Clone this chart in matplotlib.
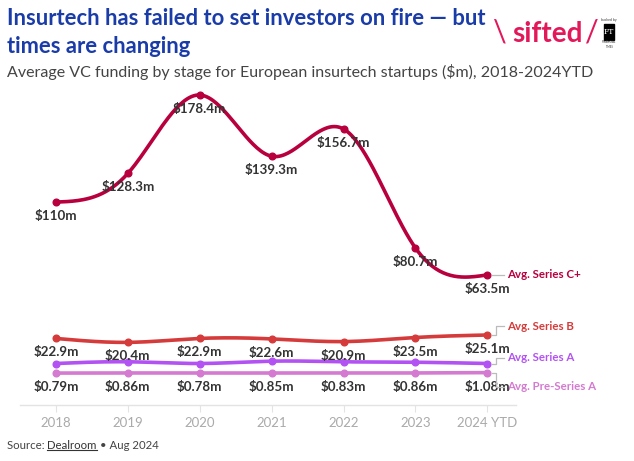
import numpy as np
import matplotlib
matplotlib.use("Agg")
import matplotlib.pyplot as plt
from matplotlib.lines import Line2D
from matplotlib.patches import Rectangle
from matplotlib.transforms import IdentityTransform

plt.rcParams['font.family'] = ['Lato', 'DejaVu Sans']

# data ($m)
years = ["2018", "2019", "2020", "2021", "2022", "2023", "2024 YTD"]
series_c = [110, 128.3, 178.4, 139.3, 156.7, 80.7, 63.5]
series_b = [22.9, 20.4, 22.9, 22.6, 20.9, 23.5, 25.1]
series_a = [6.9, 8.0, 6.9, 8.4, 8.0, 7.7, 6.9]
pre_a = [0.79, 0.86, 0.78, 0.85, 0.83, 0.86, 1.08]

labels_c = ["$110m", "$128.3m", "$178.4m", "$139.3m", "$156.7m", "$80.7m", "$63.5m"]
labels_b = ["$22.9m", "$20.4m", "$22.9m", "$22.6m", "$20.9m", "$23.5m", "$25.1m"]
labels_pre = ["$0.79m", "$0.86m", "$0.78m", "$0.85m", "$0.83m", "$0.86m", "$1.08m"]


def natural_spline(y, n=40):
    # natural cubic spline through equally spaced points (like d3 curveNatural)
    y = np.asarray(y, dtype=float)
    k = len(y)
    A = np.zeros((k, k))
    d = np.zeros(k)
    A[0, 0] = A[-1, -1] = 1
    for i in range(1, k - 1):
        A[i, i - 1], A[i, i], A[i, i + 1] = 1, 4, 1
        d[i] = 6 * (y[i + 1] - 2 * y[i] + y[i - 1])
    M = np.linalg.solve(A, d)
    xs, ys = [], []
    for i in range(k - 1):
        t = np.linspace(0, 1, n)
        a = y[i]
        b = y[i + 1] - y[i] - (2 * M[i] + M[i + 1]) / 6
        c = M[i] / 2
        dd = (M[i + 1] - M[i]) / 6
        xs.append(i + t)
        ys.append(a + b * t + c * t ** 2 + dd * t ** 3)
    return np.concatenate(xs), np.concatenate(ys)


fig = plt.figure(figsize=(6.34, 4.61), dpi=100)
ax = fig.add_axes([0.0315, 0.1215, 0.7825, 0.705])
ax.set_xlim(-0.5, 6.4)
ax.set_ylim(-19.6, 188)

x = np.arange(len(years))
series = [
    (series_c, "#b8003e", "Avg. Series C+", 0),
    (series_b, "#d63b3b", "Avg. Series B", -9),
    (series_a, "#b352f2", "Avg. Series A", -6),
    (pre_a, "#d47ad0", "Avg. Pre-Series A", 14),
]

for vals, col, name, dy in series:
    sx, sy = natural_spline(vals)
    ax.plot(sx, sy, color=col, lw=2.6, solid_capstyle="round", zorder=3)
    ax.plot(x, vals, "o", color=col, ms=4.8, zorder=4)

for lab_list, vals in [(labels_c, series_c), (labels_b, series_b), (labels_pre, pre_a)]:
    for xi, v, t in zip(x, vals, lab_list):
        ax.annotate(t, (xi, v), xytext=(0, -14), textcoords="offset pixels",
                    ha="center", va="center", fontsize=9.6, fontweight="bold",
                    color="#333333", zorder=5)

# end labels with little elbow connectors
for vals, col, name, dy in series:
    px, py = ax.transData.transform((x[-1], vals[-1]))
    xs = [px + 5, px + 9, px + 9, px + 17]
    ys = [py, py, py - dy, py - dy]
    fig.add_artist(Line2D(xs, ys, transform=IdentityTransform(), color="#bbbbbb", lw=0.9))
    ax.annotate(name, (x[-1], vals[-1]), xytext=(20, -dy), textcoords="offset pixels",
                ha="left", va="center", fontsize=8.3, fontweight="bold", color=col,
                annotation_clip=False)

for s in ["top", "right", "left"]:
    ax.spines[s].set_visible(False)
ax.spines["bottom"].set_color("#e3e3e3")
ax.spines["bottom"].set_linewidth(1)
ax.set_yticks([])
ax.set_xticks(x)
ax.set_xticklabels(years, fontsize=9.5, color="#aaaaaa")
ax.tick_params(axis="x", length=5, color="#e3e3e3", pad=4)

# titles
fig.text(0.011, 0.982, "Insurtech has failed to set investors on fire \u2014 but\ntimes are changing",
         fontsize=15.8, fontweight="bold", color="#1a3ca8", va="top", ha="left", linespacing=1.38)
fig.text(0.011, 0.843, "Average VC funding by stage for European insurtech startups ($m), 2018-2024YTD",
         fontsize=11.5, color="#444444", va="center", ha="left")

# logo
fig.text(0.789, 0.930, "\\", fontsize=22, color="#e2185a", va="center", ha="center")
fig.text(0.864, 0.926, "sifted", fontsize=20, fontweight="bold", color="#e2185a", va="center", ha="center")
fig.text(0.934, 0.930, "/", fontsize=22, color="#e2185a", va="center", ha="center")
fig.add_artist(Rectangle((0.952, 0.913), 0.016, 0.035, transform=fig.transFigure, color="black"))
fig.text(0.960, 0.930, "FT", fontsize=5.5, color="white", family="DejaVu Serif", va="center", ha="center")
fig.text(0.960, 0.956, "backed by", fontsize=2.5, color="#333333", va="center", ha="center")
fig.text(0.960, 0.903, "FINANCIAL\nTIMES", fontsize=2, color="#333333", va="center", ha="center")

# source line with underlined "Dealroom"
fs = 8.2
t1 = fig.text(0.011, 0.033, "Source: ", fontsize=fs, color="#444444", va="center", ha="left")
r = fig.canvas.get_renderer()
bb1 = t1.get_window_extent(r)
t2 = fig.text(bb1.x1 / fig.bbox.width, 0.033, "Dealroom", fontsize=fs, color="#333333", va="center", ha="left")
bb2 = t2.get_window_extent(r)
fig.add_artist(Line2D([bb2.x0, bb2.x1], [bb2.y0 + 1, bb2.y0 + 1], transform=IdentityTransform(),
                      color="#333333", lw=0.8))
fig.text(bb2.x1 / fig.bbox.width, 0.033, " \u2022 Aug 2024", fontsize=fs, color="#444444", va="center", ha="left")

fig.savefig("out.png", dpi=100)
